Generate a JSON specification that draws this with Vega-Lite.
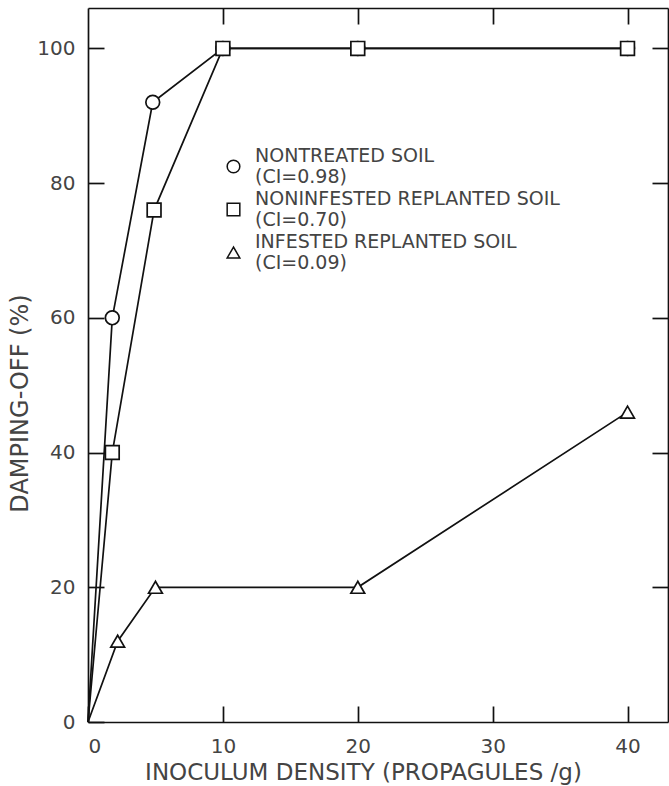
{
  "$schema": "https://vega.github.io/schema/vega-lite/v6.json",
  "width": 580,
  "height": 714,
  "autosize": {"type": "none"},
  "padding": {"left": 88, "top": 8, "right": 1, "bottom": 64},
  "background": "white",
  "config": {
    "view": {"stroke": null},
    "font": "DejaVu Sans",
    "axis": {
      "domainColor": "#111",
      "domainWidth": 1.7,
      "tickColor": "#111",
      "tickWidth": 1.7,
      "tickSize": -16,
      "grid": false,
      "labelFont": "DejaVu Sans",
      "labelFontSize": 20,
      "labelColor": "#444",
      "titleFont": "DejaVu Sans",
      "titleFontSize": 23,
      "titleFontWeight": "normal",
      "titleColor": "#444"
    }
  },
  "data": {
    "values": [
      {"series": "NONTREATED   SOIL|(CI=0.98)", "x": 0, "y": 0},
      {"series": "NONTREATED   SOIL|(CI=0.98)", "x": 1.8, "y": 60},
      {"series": "NONTREATED   SOIL|(CI=0.98)", "x": 4.8, "y": 92},
      {"series": "NONTREATED   SOIL|(CI=0.98)", "x": 10, "y": 100},
      {"series": "NONTREATED   SOIL|(CI=0.98)", "x": 20, "y": 100},
      {"series": "NONTREATED   SOIL|(CI=0.98)", "x": 40, "y": 100},
      {"series": "NONINFESTED   REPLANTED   SOIL|(CI=0.70)", "x": 0, "y": 0},
      {"series": "NONINFESTED   REPLANTED   SOIL|(CI=0.70)", "x": 1.8, "y": 40},
      {"series": "NONINFESTED   REPLANTED   SOIL|(CI=0.70)", "x": 4.9, "y": 76},
      {"series": "NONINFESTED   REPLANTED   SOIL|(CI=0.70)", "x": 10, "y": 100},
      {"series": "NONINFESTED   REPLANTED   SOIL|(CI=0.70)", "x": 20, "y": 100},
      {"series": "NONINFESTED   REPLANTED   SOIL|(CI=0.70)", "x": 40, "y": 100},
      {"series": "INFESTED   REPLANTED   SOIL|(CI=0.09)", "x": 0, "y": 0},
      {"series": "INFESTED   REPLANTED   SOIL|(CI=0.09)", "x": 2.2, "y": 12},
      {"series": "INFESTED   REPLANTED   SOIL|(CI=0.09)", "x": 5, "y": 20},
      {"series": "INFESTED   REPLANTED   SOIL|(CI=0.09)", "x": 20, "y": 20},
      {"series": "INFESTED   REPLANTED   SOIL|(CI=0.09)", "x": 40, "y": 46}
    ]
  },
  "layer": [
    {
      "mark": {"type": "line", "color": "#111", "strokeWidth": 1.7},
      "encoding": {
        "x": {
          "field": "x", "type": "quantitative",
          "scale": {"domain": [0, 43], "nice": false, "zero": false},
          "axis": {"orient": "bottom", "values": [0, 10, 20, 30, 40], "labelPadding": 30,
                   "title": "INOCULUM   DENSITY   (PROPAGULES /g)",
                   "titleX": 275, "titleY": 50, "titleBaseline": "middle", "titleAlign": "center"}
        },
        "y": {
          "field": "y", "type": "quantitative",
          "scale": {"domain": [0, 106], "nice": false, "zero": false},
          "axis": {"orient": "left", "values": [0, 20, 40, 60, 80, 100], "labelPadding": 29,
                   "title": "DAMPING-OFF   (%)", "titleFontSize": 24,
                   "titleX": -68, "titleY": 395, "titleBaseline": "middle", "titleAlign": "center", "titleAngle": -90}
        },
        "detail": {"field": "series"}
      }
    },
    {
      "transform": [{"filter": "datum.x > 0"}],
      "mark": {"type": "point", "filled": true, "fill": "white", "stroke": "#111", "strokeWidth": 1.7, "size": 190, "opacity": 1},
      "encoding": {
        "x": {
          "field": "x", "type": "quantitative",
          "axis": {"orient": "top", "values": [10, 20, 30, 40], "labels": false, "title": null}
        },
        "y": {
          "field": "y", "type": "quantitative",
          "axis": {"orient": "right", "values": [20, 40, 60, 80, 100], "labels": false, "title": null}
        },
        "shape": {
          "field": "series", "type": "nominal",
          "scale": {
            "domain": ["NONTREATED   SOIL|(CI=0.98)", "NONINFESTED   REPLANTED   SOIL|(CI=0.70)", "INFESTED   REPLANTED   SOIL|(CI=0.09)"],
            "range": ["circle", "square", "triangle-up"]
          },
          "legend": {
            "orient": "none",
            "legendX": 136,
            "legendY": 149,
            "title": null,
            "symbolSize": 160,
            "labelFont": "DejaVu Sans",
            "labelFontSize": 19,
            "labelBaseline": "line-bottom",
            "labelColor": "#444",
            "labelOffset": 12,
            "labelLimit": 500,
            "rowPadding": 2,
            "labelExpr": "split(datum.label, '|')",
            "encode": {
              "symbols": {"fill": {"value": "white"}, "stroke": {"value": "#333"}, "strokeWidth": {"value": 1.3}, "opacity": {"value": 1}}
            }
          }
        }
      }
    }
  ],
  "resolve": {"axis": {"x": "independent", "y": "independent"}}
}
